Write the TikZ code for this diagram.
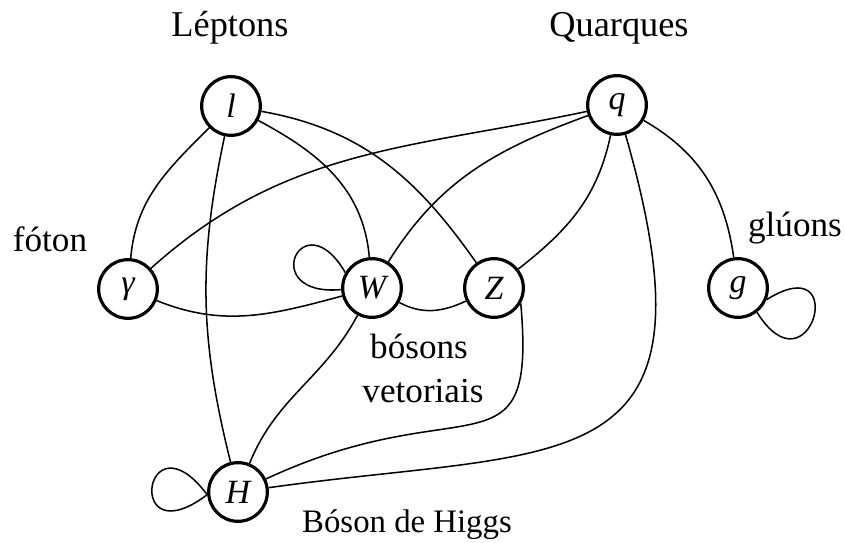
\documentclass[tikz,border=0pt]{standalone}
\usepackage{fontspec}
\setmainfont{Liberation Serif}
\usepackage{tikz}

\begin{document}
\begin{tikzpicture}[
  x=0.03cm, y=-0.03cm,
  font=\fontsize{30}{34}\selectfont,
  part/.style={draw, circle, line width=2.7pt, minimum size=1.76cm, inner sep=0pt, font=\fontsize{29}{32}\selectfont\itshape},
  lbl/.style={anchor=base, inner sep=0pt},
  link/.style={line width=1.3pt}
]
\useasboundingbox (0,0) rectangle (845,543);

% particulas
\node[part] (l) at (231,106) {l};
\node[part] (q) at (617,105) {q};
\node[part] (gam) at (128,289) {γ};
\node[part] (W) at (372,288) {W};
\node[part] (Z) at (494,288) {Z};
\node[part] (g) at (738,288) {g};
\node[part] (H) at (238,492) {H};

% rotulos
\node[lbl, font=\fontsize{31}{34}\selectfont] (leptons) at (230,37) {Léptons};
\node[lbl, font=\fontsize{31}{34}\selectfont] (quarks) at (619,37) {Quarques};
\node[lbl] (foton) at (50,252) {fóton};
\node[lbl] (gluons) at (795,237) {glúons};
\node[lbl] (vetor1) at (419,358) {bósons};
\node[lbl] (vetor2) at (423,402) {vetoriais};
\node[lbl, font=\fontsize{28}{32}\selectfont] (higgs) at (407,532) {Bóson de Higgs};

% ligacoes
\draw[link] (l) to[out=225, in=85] (gam);
\draw[link] (l) to[out=-102, in=104] (H);
\draw[link] (l) to[out=-28, in=95] (W);
\draw[link] (l) to[out=-10, in=125] (Z);
\draw[link] (q) to[out=192, in=42] (gam);
\draw[link] (q) to[out=200, in=58] (W);
\draw[link] (q) to[out=-102, in=38] (Z);
\draw[link] (q) to[out=-30, in=98] (g);
\draw[link] (q) to[out=-74, in=8, out distance=11cm, in distance=9cm] (H);
\draw[link] (Z.-30) to[out=-85, in=25, out distance=5.4cm, in distance=6.6cm] (H);
\draw[link] (W) to[out=-118, in=68] (H);
\draw[link] (gam) to[out=-22, in=195] (W);
\draw[link] (W) to[out=-28, in=205] (Z);

% lacos
\draw[link] (W.183) to[out=185, in=120, distance=2.55cm] (W.150);
\draw[link] (H.185) to[out=127, in=217, distance=3.15cm] (H.185);
\draw[link] (g.-22) to[out=32, in=-58, distance=3cm] (g.-52);
\end{tikzpicture}
\end{document}
